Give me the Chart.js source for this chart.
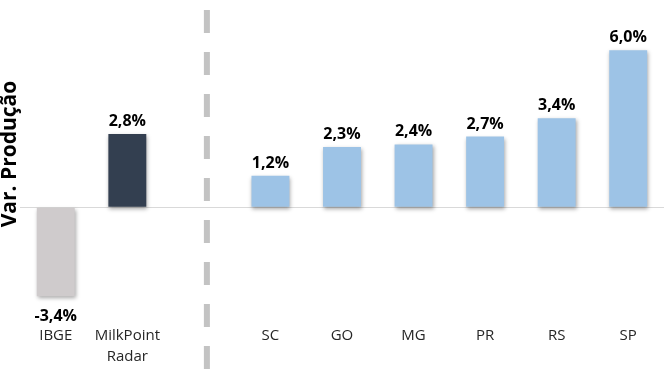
<!DOCTYPE html>
<html>
<head>
<meta charset="utf-8">
<script src="https://cdn.jsdelivr.net/npm/chart.js@4.4.1/dist/chart.umd.min.js"></script>
<style>
  html, body { margin: 0; padding: 0; background: #ffffff; }
  #wrap { width: 667px; height: 385px; position: relative; }
</style>
</head>
<body>
<div id="wrap"><canvas id="c" width="667" height="385"></canvas></div>
<script>
const categories = ['IBGE', ['MilkPoint', 'Radar'], '', 'SC', 'GO', 'MG', 'PR', 'RS', 'SP'];
const values = [-3.4, 2.8, null, 1.2, 2.3, 2.4, 2.7, 3.4, 6.0];
const valueLabels = ['-3,4%', '2,8%', '', '1,2%', '2,3%', '2,4%', '2,7%', '3,4%', '6,0%'];
const barColors = ['#CFCBCC', '#333F50', '#9DC3E6', '#9DC3E6', '#9DC3E6', '#9DC3E6', '#9DC3E6', '#9DC3E6', '#9DC3E6'];
const yTitle = 'Var. Produção';
const FONT = '"Open Sans", "DejaVu Sans", sans-serif';

const decorPlugin = {
  id: 'decor',
  beforeDatasetsDraw(chart) {
    const ctx = chart.ctx;
    ctx.save();
    ctx.shadowColor = 'rgba(0,0,0,0.35)';
    ctx.shadowBlur = 4;
    ctx.shadowOffsetX = 1;
    ctx.shadowOffsetY = 2;
  },
  afterDatasetsDraw(chart) {
    const ctx = chart.ctx;
    ctx.restore();
    const meta = chart.getDatasetMeta(0);
    const yScale = chart.scales.y;
    const xScale = chart.scales.x;
    // value labels
    ctx.save();
    ctx.font = 'bold 16px ' + FONT;
    ctx.fillStyle = '#000000';
    ctx.textAlign = 'center';
    ctx.textBaseline = 'alphabetic';
    meta.data.forEach((bar, i) => {
      const v = values[i];
      if (v === null || v === undefined) return;
      if (v >= 0) {
        ctx.fillText(valueLabels[i], bar.x, bar.y - 8);
      } else {
        ctx.fillText(valueLabels[i], bar.x, bar.y + 25);
      }
    });
    ctx.restore();
    // dashed separator
    ctx.save();
    const sx = xScale.getPixelForValue(2) + 8;
    ctx.strokeStyle = '#C3C3C3';
    ctx.lineWidth = 6;
    ctx.setLineDash([23, 19]);
    ctx.beginPath();
    ctx.moveTo(sx, 10);
    ctx.lineTo(sx, 370);
    ctx.stroke();
    ctx.restore();
    // y title
    ctx.save();
    ctx.font = 'bold 21px ' + FONT;
    ctx.fillStyle = '#000000';
    ctx.textAlign = 'center';
    ctx.textBaseline = 'alphabetic';
    ctx.translate(16, 154);
    ctx.rotate(-Math.PI / 2);
    ctx.fillText(yTitle, 0, 0);
    ctx.restore();
  }
};

new Chart(document.getElementById('c'), {
  type: 'bar',
  data: {
    labels: categories,
    datasets: [{
      data: values,
      backgroundColor: barColors,
      borderWidth: 0,
      barPercentage: 0.53,
      categoryPercentage: 1.0
    }]
  },
  options: {
    responsive: false,
    animation: false,
    devicePixelRatio: 1,
    layout: { padding: { top: 24, right: 3, left: 0, bottom: 0 } },
    plugins: { legend: { display: false }, tooltip: { enabled: false } },
    scales: {
      x: {
        grid: { display: false, drawTicks: false },
        border: { display: false },
        ticks: {
          font: { family: FONT, size: 15, lineHeight: 1.4 },
          color: '#262626',
          padding: 13,
          maxRotation: 0,
          autoSkip: false
        },
        afterFit(scale) { scale.height = 73; }
      },
      y: {
        min: -4,
        max: 7,
        ticks: { display: false, stepSize: 1 },
        border: { display: false },
        grid: {
          drawTicks: false,
          color: (c) => (c.tick && c.tick.value === 0 ? '#D9D9D9' : 'rgba(0,0,0,0)'),
          lineWidth: 1
        },
        afterFit(scale) { scale.width = 20; }
      }
    }
  },
  plugins: [decorPlugin]
});
</script>
</body>
</html>
